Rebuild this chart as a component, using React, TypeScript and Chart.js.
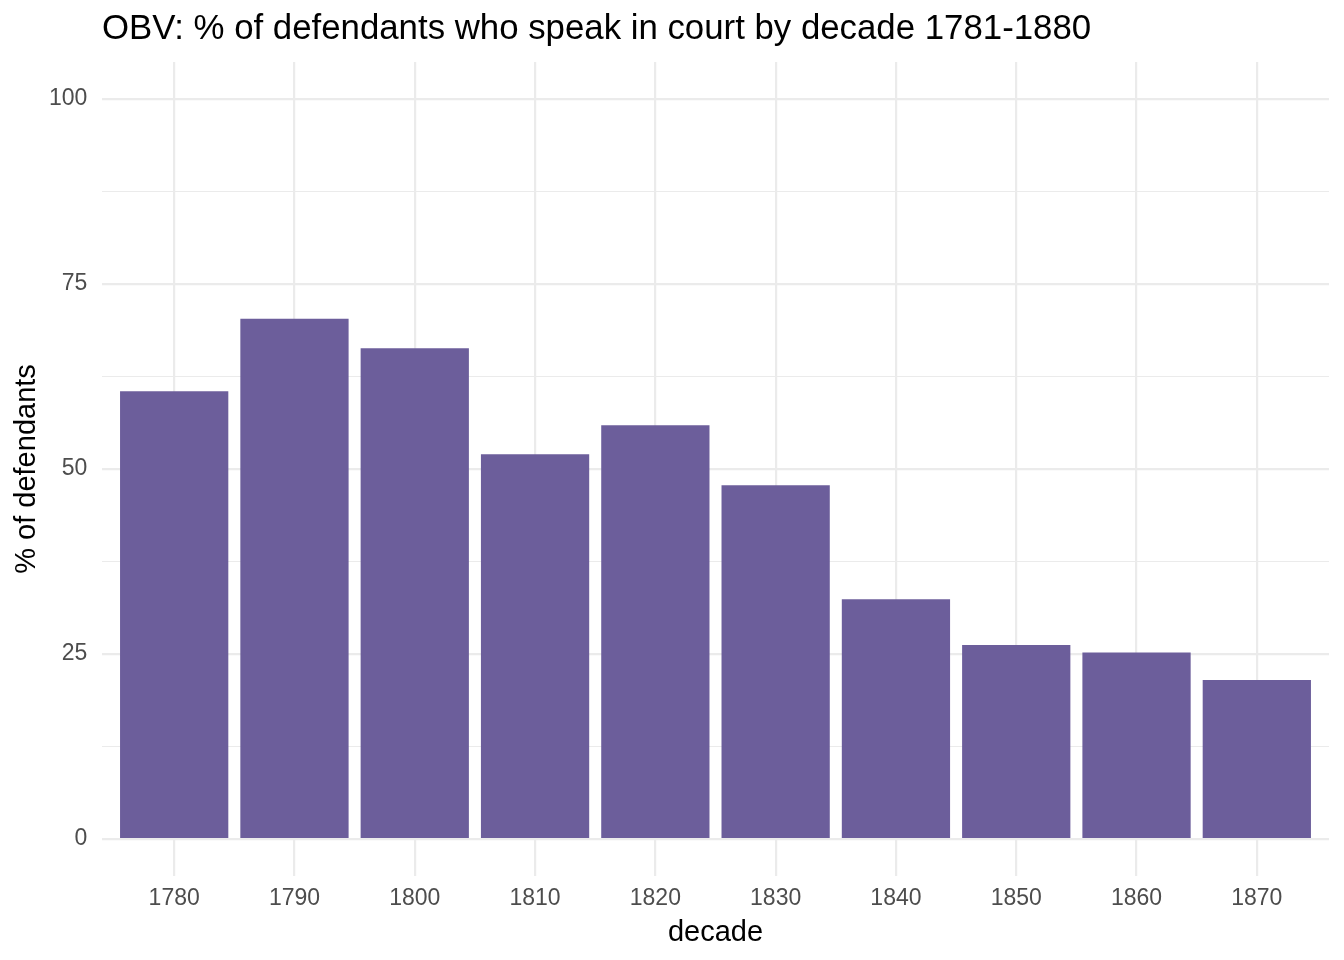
import { useRef, useEffect } from 'react'
import { Chart, registerables } from 'chart.js'

Chart.register(...registerables)

const decades = [1780, 1790, 1800, 1810, 1820, 1830, 1840, 1850, 1860, 1870]
const pctSpeaking = [60.5, 70.3, 66.3, 52.0, 55.9, 47.8, 32.4, 26.2, 25.2, 21.5]
const yMajorTicks = [0, 25, 50, 75, 100]
const yMinorTicks = [12.5, 37.5, 62.5, 87.5]

const FONT = '"Liberation Sans", Arial, Helvetica, sans-serif'
const GRID = '#EBEBEB'

export default function App() {
  const canvasRef = useRef<HTMLCanvasElement>(null)
  const chartRef = useRef<Chart | null>(null)

  useEffect(() => {
    if (!canvasRef.current) return
    const ctx = canvasRef.current.getContext('2d')
    if (!ctx) return

    Chart.defaults.font.family = FONT

    chartRef.current = new Chart(ctx, {
      type: 'bar',
      data: {
        datasets: [{
          label: '% of defendants',
          data: decades.map((d, i) => ({ x: d, y: pctSpeaking[i] })),
          backgroundColor: '#6C5E9B',
          borderWidth: 0,
          barPercentage: 0.9,
          categoryPercentage: 1,
        }],
      },
      options: {
        responsive: false,
        animation: false,
        layout: { padding: { left: 0, right: 15, top: 0, bottom: 0 } },
        plugins: {
          legend: { display: false },
          tooltip: { enabled: false },
          title: {
            display: true,
            text: 'OBV: % of defendants who speak in court by decade 1781-1880',
            align: 'start',
            fullSize: false,
            color: '#000000',
            font: { size: 34.8, weight: 'normal' },
            padding: { top: 8.5, bottom: 11.7 },
          },
        },
        scales: {
          x: {
            type: 'linear',
            offset: false,
            min: decades[0] - 6,
            max: decades[decades.length - 1] + 6,
            afterBuildTicks: (scale) => {
              scale.ticks = decades.map((v) => ({ value: v }))
            },
            afterFit: (scale) => { scale.height = 84 },
            border: { display: false },
            grid: { color: GRID, lineWidth: 2.2, drawTicks: false, offset: false },
            ticks: {
              color: '#4D4D4D',
              font: { size: 23 },
              padding: 9,
              maxRotation: 0,
              callback: (v) => String(v),
            },
            title: {
              display: true,
              text: 'decade',
              color: '#000000',
              font: { size: 29 },
              padding: { top: 0, bottom: 10 },
            },
          },
          y: {
            type: 'linear',
            min: -5,
            max: 105,
            afterBuildTicks: (scale) => {
              scale.ticks = [...yMajorTicks, ...yMinorTicks]
                .sort((a, b) => a - b)
                .map((v) => ({ value: v }))
            },
            afterFit: (scale) => { scale.width = 102 },
            border: { display: false },
            grid: {
              color: GRID,
              lineWidth: (c) => (yMajorTicks.includes(c.tick?.value) ? 2.2 : 1.1),
              drawTicks: false,
            },
            ticks: {
              color: '#4D4D4D',
              font: { size: 23 },
              padding: 14.7,
              callback: (v) => (yMajorTicks.includes(Number(v)) ? String(v) : ''),
            },
            title: {
              display: true,
              text: '% of defendants',
              color: '#000000',
              font: { size: 29 },
              padding: { top: 9.3, bottom: 0 },
            },
          },
        },
      },
    })

    return () => { chartRef.current?.destroy() }
  }, [])

  return (
    <div style={{ position: 'fixed', left: 0, top: 0, width: 1344, height: 960, background: '#fff' }}>
      <canvas ref={canvasRef} width={1344} height={960} />
    </div>
  )
}
